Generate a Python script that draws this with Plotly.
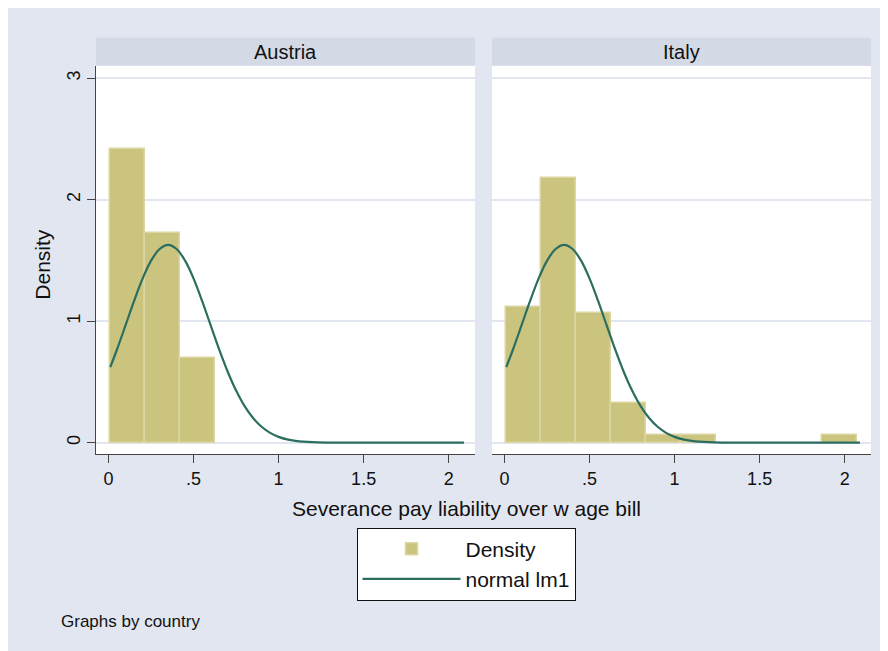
import plotly.graph_objects as go

# ---------------- data ----------------
countries = ["Austria", "Italy"]
bin_edges = [0.006, 0.213, 0.419, 0.626, 0.833, 1.039, 1.246, 1.453, 1.659, 1.866, 2.073]
density_austria = [2.415, 1.726, 0.695, 0, 0, 0, 0, 0, 0, 0]
density_italy = [1.119, 2.176, 1.065, 0.324, 0.06, 0.06, 0, 0, 0, 0.06]

normal_x = [0.01, 0.05, 0.10, 0.15, 0.20, 0.25, 0.30, 0.35, 0.40, 0.45, 0.50, 0.55,
            0.60, 0.65, 0.70, 0.75, 0.80, 0.85, 0.90, 0.95, 1.00, 1.05, 1.10, 1.20,
            1.30, 1.40, 1.60, 1.80, 2.00, 2.09]
normal_y = [0.622, 0.769, 0.967, 1.167, 1.350, 1.498, 1.594, 1.628, 1.594, 1.498, 1.350, 1.167,
            0.967, 0.769, 0.586, 0.429, 0.301, 0.203, 0.131, 0.081, 0.048, 0.027, 0.015, 0.004,
            0.001, 0.0, 0.0, 0.0, 0.0, 0.0]

x_tick_vals = [0, 0.5, 1, 1.5, 2]
x_tick_text = ["0", ".5", "1", "1.5", "2"]
y_tick_vals = [0, 1, 2, 3]
y_tick_text = ["0", "1", "2", "3"]

x_title = "Severance pay liability over w age bill"
y_title = "Density"
note = "Graphs by country"

# ---------------- styling ----------------
W, H = 880, 644
OX, OY = 8, 7.5          # page offset of the figure inside the browser window
ML, MR, MT, MB = 88, 17, 58, 198
PW, PH = W - ML - MR, H - MT - MB

def px(xr):
    return (xr - OX - ML) / PW

def py(yr):
    return (H - MB - (yr - OY)) / PH

BG = "#e1e6f0"
STRIP = "#d3d9e5"
BAR = "#cbc47f"
BAR_EDGE = "#dbd6a2"
LINE = "#2b6e60"
FONT = "Liberation Sans, Arial, sans-serif"

fig = go.Figure()

centers = [(bin_edges[i] + bin_edges[i + 1]) / 2 for i in range(len(bin_edges) - 1)]
widths = [bin_edges[i + 1] - bin_edges[i] for i in range(len(bin_edges) - 1)]

for k, (dens, xa, ya) in enumerate([(density_austria, "x", "y"), (density_italy, "x2", "y2")]):
    keep = [i for i, d in enumerate(dens) if d > 0]
    fig.add_trace(go.Bar(
        x=[centers[i] for i in keep], y=[dens[i] for i in keep],
        width=[widths[i] for i in keep], xaxis=xa, yaxis=ya,
        marker=dict(color=BAR, line=dict(color=BAR_EDGE, width=1.5)),
        name="Density", showlegend=(k == 0), legendgroup="d", hoverinfo="skip"))
    fig.add_trace(go.Scatter(
        x=normal_x, y=normal_y, xaxis=xa, yaxis=ya, mode="lines",
        line=dict(color=LINE, width=2.2, shape="spline"),
        name="normal lm1", showlegend=(k == 0), legendgroup="n", hoverinfo="skip"))

xrange = [-0.074, 2.155]
yrange = [-0.093, 3.10]
xdom1 = [0, px(475)]
xdom2 = [px(492), 1]

common_x = dict(range=xrange, tickvals=x_tick_vals, ticktext=x_tick_text,
                ticks="outside", ticklen=8, tickwidth=1.3, tickcolor="#444",
                showline=True, linecolor="#444", linewidth=1.3, showgrid=False,
                zeroline=False, tickfont=dict(size=18, color="#111", family=FONT))
fig.update_layout(
    xaxis=dict(domain=xdom1, anchor="y", **common_x),
    xaxis2=dict(domain=xdom2, anchor="y2", **common_x),
    yaxis=dict(domain=[0, 1], range=yrange, tickvals=y_tick_vals, ticktext=y_tick_text,
               ticks="outside", ticklen=8, tickwidth=1.3, tickcolor="#444",
               showline=True, linecolor="#444", linewidth=1.3, tickangle=-90,
               showgrid=True, gridcolor=BG, gridwidth=2, zeroline=False,
               tickfont=dict(size=18, color="#111", family=FONT), anchor="x"),
    yaxis2=dict(domain=[0, 1], range=yrange, tickvals=y_tick_vals, showticklabels=False,
                ticks="", showline=False, showgrid=True, gridcolor=BG, gridwidth=2,
                zeroline=False, anchor="x2", matches="y"),
)

shapes = [
    dict(type="rect", xref="paper", yref="paper", x0=xdom1[0], x1=xdom1[1], y0=py(65), y1=py(37.3),
         fillcolor=STRIP, line_width=0),
    dict(type="rect", xref="paper", yref="paper", x0=xdom2[0], x1=xdom2[1], y0=py(65), y1=py(37.3),
         fillcolor=STRIP, line_width=0),
]

annotations = [
    dict(text=countries[0], xref="paper", yref="paper", x=(xdom1[0] + xdom1[1]) / 2, y=py(51.5),
         showarrow=False, font=dict(size=20, color="#111", family=FONT), xanchor="center", yanchor="middle"),
    dict(text=countries[1], xref="paper", yref="paper", x=(xdom2[0] + xdom2[1]) / 2, y=py(51.5),
         showarrow=False, font=dict(size=20, color="#111", family=FONT), xanchor="center", yanchor="middle"),
    dict(text=x_title, xref="paper", yref="paper", x=px(466.5), y=py(507.5),
         showarrow=False, font=dict(size=21, color="#111", family=FONT), xanchor="center", yanchor="middle"),
    dict(text=y_title, xref="paper", yref="paper", x=px(41.7), y=py(263.5), textangle=-90,
         showarrow=False, font=dict(size=21, color="#111", family=FONT), xanchor="center", yanchor="middle"),
    dict(text=note, xref="paper", yref="paper", x=px(59), y=py(621), xanchor="left", yanchor="middle",
         showarrow=False, font=dict(size=17, color="#111", family=FONT)),
]

fig.update_layout(
    width=W, height=H,
    margin=dict(l=ML, r=MR, t=MT, b=MB, pad=0),
    paper_bgcolor=BG, plot_bgcolor="white",
    barmode="overlay", bargap=0,
    shapes=shapes, annotations=annotations,
    showlegend=True,
    legend=dict(x=px(466), y=py(527), xanchor="center", yanchor="top",
                bgcolor="white", bordercolor="#111", borderwidth=1,
                font=dict(size=21, color="#111", family=FONT),
                itemwidth=98, tracegroupgap=2, traceorder="normal"),
    font=dict(family=FONT),
)

fig.write_html("out.html")
